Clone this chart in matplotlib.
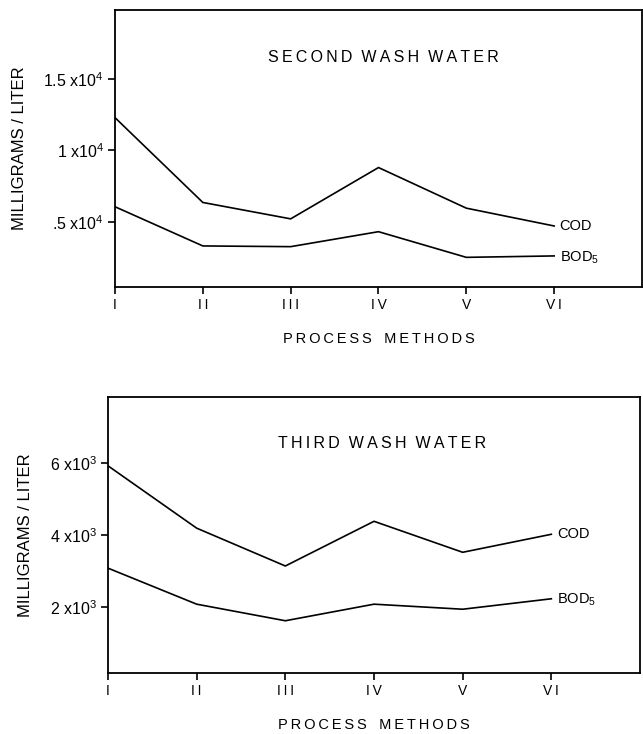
import matplotlib
matplotlib.use("Agg")
import matplotlib.pyplot as plt

plt.rcParams["font.family"] = ["Liberation Sans", "DejaVu Sans"]
plt.rcParams["mathtext.fontset"] = "custom"
plt.rcParams["mathtext.rm"] = "Liberation Sans"
plt.rcParams["mathtext.it"] = "Liberation Sans"
plt.rcParams["mathtext.bf"] = "Liberation Sans:bold"

# Process methods on the x axis
methods = ["I", "II", "III", "IV", "V", "VI"]
positions = [1, 2, 3, 4, 5, 6]

# Second wash water (mg/L)
second_cod = [12300, 6350, 5200, 8800, 5950, 4700]
second_bod = [6050, 3300, 3250, 4300, 2500, 2600]
second_yticks = [5000, 10000, 15000]
second_yticklabels = [".5 x10$^4$", "1 x10$^4$", "1.5 x10$^4$"]

# Third wash water (mg/L)
third_cod = [5920, 4190, 3140, 4380, 3520, 4020]
third_bod = [3080, 2080, 1620, 2080, 1940, 2230]
third_yticks = [2000, 4000, 6000]
third_yticklabels = ["2 x10$^3$", "4 x10$^3$", "6 x10$^3$"]

W, H = 643, 734
fig = plt.figure(figsize=(W / 100, H / 100), dpi=100)


def spaced(text, word_gap="  "):
    """Letter-space a string with thin spaces, wider gaps between words."""
    words = text.split(" ")
    return (word_gap).join("\u2009".join(w) for w in words)


def px_axes(left, top, right, bottom):
    return fig.add_axes([left / W, 1 - bottom / H, (right - left) / W, (bottom - top) / H])


def draw_panel(ax, cod, bod, yticks, yticklabels, ylim, title, title_x, title_y):
    lw = 1.2
    ax.plot(positions, cod, color="black", lw=lw, solid_joinstyle="miter")
    ax.plot(positions, bod, color="black", lw=lw, solid_joinstyle="miter")
    ax.set_xlim(1, 7)
    ax.set_ylim(*ylim)
    ax.set_xticks(positions)
    ax.set_xticklabels([spaced(m) for m in methods], fontsize=10)
    ax.set_yticks(yticks)
    ax.set_yticklabels(yticklabels, fontsize=11.5)
    ax.tick_params(axis="both", direction="out", length=5, width=1.2, pad=3)
    for s in ax.spines.values():
        s.set_linewidth(1.3)
    ax.set_xlabel(spaced("PROCESS METHODS", "   "), fontsize=10.5, labelpad=14)
    ax.set_ylabel("MILLIGRAMS / LITER", fontsize=12, labelpad=12)
    ax.text(title_x, title_y, spaced(title, "  "), transform=ax.get_xaxis_transform(),
            ha="center", va="center", fontsize=11.5)
    ax.annotate("COD", (positions[-1], cod[-1]), xytext=(4, 0),
                textcoords="offset points", ha="left", va="center", fontsize=10.5)
    ax.annotate("BOD$_5$", (positions[-1], bod[-1]), xytext=(4, -1),
                textcoords="offset points", ha="left", va="center", fontsize=10.5)


ax1 = px_axes(115, 10, 642, 287)
draw_panel(ax1, second_cod, second_bod, second_yticks, second_yticklabels,
           (420, 19850), "SECOND WASH WATER", 4.05, 0.83)

ax2 = px_axes(108, 397, 640, 673)
draw_panel(ax2, third_cod, third_bod, third_yticks, third_yticklabels,
           (170, 7830), "THIRD WASH WATER", 4.09, 0.833)

fig.savefig("out.png", dpi=100)
